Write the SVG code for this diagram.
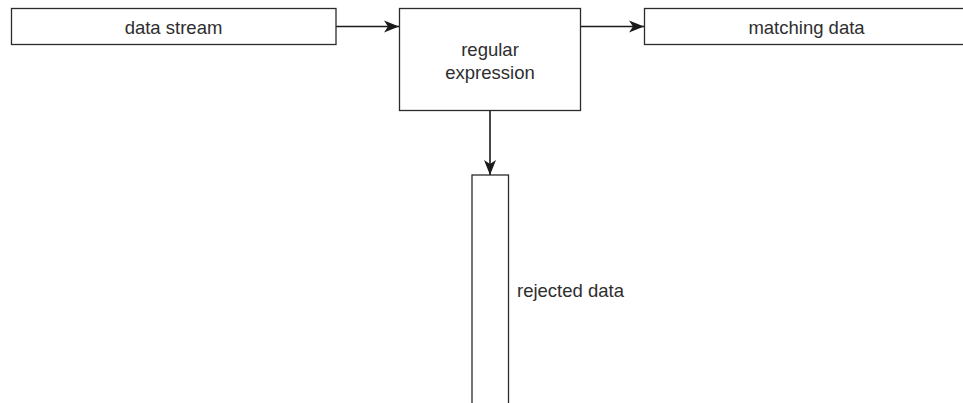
<svg xmlns="http://www.w3.org/2000/svg" width="963" height="403" viewBox="0 0 963 403">
<style>
.box{fill:#fff;stroke:#2b2b2b;stroke-width:1.3}
.lbl{font-family:"Liberation Sans",Arial,sans-serif;font-size:18.5px;fill:#2e2e2e}
.c{text-anchor:middle}
.edge{stroke:#1a1a1a;stroke-width:1.6;fill:none}
</style>
<defs>
<marker id="ah" markerWidth="16" markerHeight="14" refX="15" refY="7" orient="auto" markerUnits="userSpaceOnUse">
<path d="M0,1 L15,7 L0,13 L4,7 Z" fill="#1a1a1a"/>
</marker>
</defs>
<rect width="963" height="403" fill="#fff"/>
<g id="connectors">
<line class="edge" x1="336" y1="26.5" x2="399" y2="26.5" marker-end="url(#ah)"/>
<line class="edge" x1="581" y1="26.5" x2="644" y2="26.5" marker-end="url(#ah)"/>
<line class="edge" x1="490" y1="111" x2="490" y2="175" marker-end="url(#ah)"/>
</g>
<g id="data-stream">
<rect class="box" x="11.5" y="8.5" width="324.5" height="36"/>
<text class="lbl c" x="173.5" y="34.3">data stream</text>
</g>
<g id="regular-expression">
<rect class="box" x="399.5" y="8.5" width="181" height="102"/>
<text class="lbl c" x="490" y="55.7">regular</text>
<text class="lbl c" x="490" y="79.3">expression</text>
</g>
<g id="matching-data">
<rect class="box" x="644.5" y="8.5" width="330" height="36"/>
<text class="lbl c" x="806.5" y="34.3">matching data</text>
</g>
<g id="rejected-data">
<rect class="box" x="472" y="175" width="36.5" height="240"/>
<text class="lbl" x="517" y="297">rejected data</text>
</g>
</svg>
